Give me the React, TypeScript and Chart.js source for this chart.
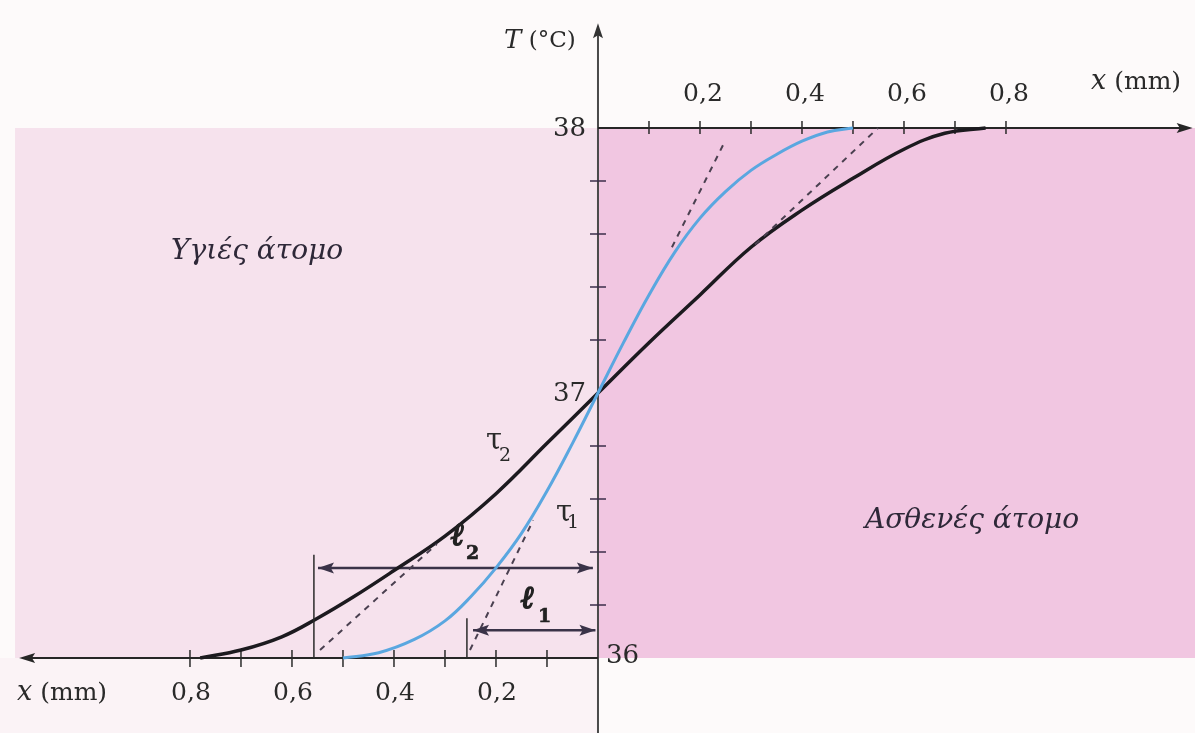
import React, { useEffect, useRef } from "react";
import { Chart, registerables } from "chart.js";
Chart.register(...registerables);

// scale ranges (mm, °C)
const X_MIN = -1.1725;
const X_MAX = 1.1706;
const T_MIN = 35.717;
const T_MAX = 38.483;

// curve τ2 (black)
const tau2X = [-0.78, -0.7, -0.62, -0.55, -0.48, -0.4, -0.3, -0.2, -0.1, 0, 0.1, 0.2, 0.3, 0.4, 0.5, 0.6, 0.68, 0.76];
const tau2T = [36.0, 36.03, 36.08, 36.15, 36.23, 36.33, 36.46, 36.62, 36.81, 37.0, 37.19, 37.37, 37.55, 37.69, 37.81, 37.92, 37.98, 38.0];

// curve τ1 (blue)
const tau1X = [-0.5, -0.43, -0.36, -0.3, -0.25, -0.2, -0.15, -0.1, -0.05, 0, 0.05, 0.1, 0.15, 0.2, 0.25, 0.3, 0.35, 0.4, 0.45, 0.5];
const tau1T = [36.0, 36.02, 36.07, 36.14, 36.23, 36.34, 36.47, 36.63, 36.81, 37.0, 37.19, 37.37, 37.53, 37.66, 37.76, 37.84, 37.9, 37.95, 37.985, 38.0];

// dashed tangents
const tan2LeftX = [-0.545, -0.316];
const tan2LeftT = [36.03, 36.43];
const tan2RightX = [0.308, 0.549];
const tan2RightT = [37.56, 38.0];
const tan1LeftX = [-0.251, -0.127];
const tan1LeftT = [36.03, 36.52];
const tan1RightX = [0.145, 0.249];
const tan1RightT = [37.55, 37.95];

// marker lines
const l2MarkX = [-0.557, -0.557];
const l2MarkT = [36.0, 36.39];
const l1MarkX = [-0.257, -0.257];
const l1MarkT = [36.0, 36.15];

// double arrows ℓ2, ℓ1
const l2ArrowX = [-0.549, -0.01];
const l2ArrowT = [36.34, 36.34];
const l1ArrowX = [-0.245, -0.005];
const l1ArrowT = [36.105, 36.105];

// ticks & labels
const topTickX = [0.1, 0.2, 0.3, 0.4, 0.5, 0.6, 0.7, 0.8];
const bottomTickX = [-0.1, -0.2, -0.3, -0.4, -0.5, -0.6, -0.7, -0.8];
const topTickLabelX = [0.2, 0.4, 0.6, 0.8];
const topTickLabels = ["0,2", "0,4", "0,6", "0,8"];
const bottomTickLabelX = [-0.8, -0.6, -0.4, -0.2];
const bottomTickLabels = ["0,8", "0,6", "0,4", "0,2"];
const tTickValues = [36.2, 36.4, 36.6, 36.8, 37.2, 37.4, 37.6, 37.8];
const tLabelValues = [38, 37, 36];
const tLabels = ["38", "37", "36"];

// axis extents
const AXIS_RIGHT_END = 1.166;
const AXIS_LEFT_END = -1.135;
const AXIS_TOP_END = 38.395;
const REGION_LEFT_START = -1.143;

const SERIF = '"DejaVu Serif", "Liberation Serif", serif';

const pts = (xs: number[], ys: number[]) => xs.map((x, i) => ({ x, y: ys[i] }));

function arrowHead(ctx: CanvasRenderingContext2D, tx: number, ty: number, dx: number, dy: number, len: number, half: number, color: string) {
  const nx = -dy, ny = dx;
  ctx.save();
  ctx.fillStyle = color;
  ctx.beginPath();
  ctx.moveTo(tx, ty);
  ctx.lineTo(tx - dx * len + nx * half, ty - dy * len + ny * half);
  ctx.lineTo(tx - dx * len * 0.8, ty - dy * len * 0.8);
  ctx.lineTo(tx - dx * len - nx * half, ty - dy * len - ny * half);
  ctx.closePath();
  ctx.fill();
  ctx.restore();
}

const figurePlugin = {
  id: "figure",
  beforeDatasetsDraw(chart: any) {
    const { ctx, scales } = chart;
    const X = (v: number) => scales.x.getPixelForValue(v);
    const Y = (v: number) => scales.y.getPixelForValue(v);
    ctx.save();
    ctx.fillStyle = "#fdfafa";
    ctx.fillRect(0, 0, chart.width, chart.height);
    ctx.fillStyle = "#fbf3f6";
    ctx.fillRect(0, Y(36), X(0), chart.height - Y(36));
    ctx.fillStyle = "#f6e2ed";
    ctx.fillRect(X(REGION_LEFT_START), Y(38), X(0) - X(REGION_LEFT_START), Y(36) - Y(38));
    ctx.fillStyle = "#f1c6e1";
    ctx.fillRect(X(0), Y(38), chart.width - X(0), Y(36) - Y(38));

    // vertical axis
    ctx.strokeStyle = "#4a4a4a";
    ctx.lineWidth = 2;
    ctx.beginPath();
    ctx.moveTo(X(0), chart.height);
    ctx.lineTo(X(0), Y(AXIS_TOP_END) + 10);
    ctx.stroke();
    arrowHead(ctx, X(0), Y(AXIS_TOP_END), 0, -1, 15, 5, "#333");

    // top horizontal axis (T = 38)
    ctx.strokeStyle = "#262626";
    ctx.lineWidth = 2;
    ctx.beginPath();
    ctx.moveTo(X(0), Y(38));
    ctx.lineTo(X(AXIS_RIGHT_END) - 10, Y(38));
    ctx.stroke();
    arrowHead(ctx, X(AXIS_RIGHT_END), Y(38), 1, 0, 16, 5, "#262626");

    // bottom horizontal axis (T = 36)
    ctx.beginPath();
    ctx.moveTo(X(0), Y(36));
    ctx.lineTo(X(AXIS_LEFT_END) + 10, Y(36));
    ctx.stroke();
    arrowHead(ctx, X(AXIS_LEFT_END), Y(36), -1, 0, 16, 5, "#262626");

    // ticks
    ctx.lineWidth = 1.5;
    ctx.strokeStyle = "#2a2a2a";
    topTickX.forEach((v) => {
      ctx.beginPath();
      ctx.moveTo(X(v), Y(38) - 7);
      ctx.lineTo(X(v), Y(38) + 6);
      ctx.stroke();
    });
    bottomTickX.forEach((v) => {
      ctx.beginPath();
      ctx.moveTo(X(v), Y(36) - 8);
      ctx.lineTo(X(v), Y(36) + 9);
      ctx.stroke();
    });
    ctx.strokeStyle = "#3a2c48";
    tTickValues.forEach((v) => {
      ctx.beginPath();
      ctx.moveTo(X(0) - 8, Y(v));
      ctx.lineTo(X(0) + 8, Y(v));
      ctx.stroke();
    });
    ctx.restore();
  },
  afterDatasetsDraw(chart: any) {
    const { ctx, scales } = chart;
    const X = (v: number) => scales.x.getPixelForValue(v);
    const Y = (v: number) => scales.y.getPixelForValue(v);
    ctx.save();
    const ac = "#3a3348";
    arrowHead(ctx, X(l2ArrowX[0]), Y(l2ArrowT[0]), -1, 0, 16, 5.5, ac);
    arrowHead(ctx, X(l2ArrowX[1]), Y(l2ArrowT[1]), 1, 0, 16, 5.5, ac);
    arrowHead(ctx, X(l1ArrowX[0]), Y(l1ArrowT[0]), -1, 0, 16, 5.5, ac);
    arrowHead(ctx, X(l1ArrowX[1]), Y(l1ArrowT[1]), 1, 0, 16, 5.5, ac);

    ctx.fillStyle = "#2a2a2a";
    ctx.textBaseline = "middle";
    // tick labels
    ctx.font = `25px ${SERIF}`;
    ctx.textAlign = "center";
    topTickLabelX.forEach((v, i) => ctx.fillText(topTickLabels[i], X(v) + 3, Y(38) - 33));
    bottomTickLabelX.forEach((v, i) => ctx.fillText(bottomTickLabels[i], X(v) + 1, Y(36) + 35));
    ctx.font = `26px ${SERIF}`;
    tLabelValues.forEach((v, i) => {
      if (v === 36) {
        ctx.textAlign = "left";
        ctx.fillText(tLabels[i], X(0) + 8, Y(v) - 2);
      } else {
        ctx.textAlign = "right";
        ctx.fillText(tLabels[i], X(0) - 12, Y(v) + 1);
      }
    });

    const drawMixed = (parts: [string, string][], x: number, y: number, stroke = 0) => {
      ctx.textAlign = "left";
      let cx = x;
      parts.forEach(([font, s]) => {
        ctx.font = font;
        ctx.fillText(s, cx, y);
        if (stroke > 0) {
          ctx.lineWidth = stroke;
          ctx.strokeStyle = ctx.fillStyle as string;
          ctx.strokeText(s, cx, y);
        }
        cx += ctx.measureText(s).width;
      });
    };
    drawMixed([[`italic 26px ${SERIF}`, "T"], [`23px ${SERIF}`, " (°C)"]], 504, 41);
    drawMixed([[`italic 27px ${SERIF}`, "x"], [`25px ${SERIF}`, " (mm)"]], 1091, 82);
    drawMixed([[`italic 27px ${SERIF}`, "x"], [`25px ${SERIF}`, " (mm)"]], 17, Y(36) + 35);

    // region labels
    ctx.fillStyle = "#2e2838";
    drawMixed([[`italic 28px ${SERIF}`, "Υγιές άτομο"]], 171, 252);
    drawMixed([[`italic 28px ${SERIF}`, "Ασθενές άτομο"]], 865, 521);

    // τ labels
    ctx.fillStyle = "#2a2a2a";
    drawMixed([[`29px ${SERIF}`, "τ"]], 486, 441);
    drawMixed([[`19px ${SERIF}`, "2"]], 499, 456);
    drawMixed([[`29px ${SERIF}`, "τ"]], 556, 513);
    drawMixed([[`19px ${SERIF}`, "1"]], 567, 523);

    // ℓ labels
    ctx.fillStyle = "#222";
    drawMixed([[`bold italic 31px ${SERIF}`, "ℓ"]], 451, 537, 1.6);
    drawMixed([[`bold 19px ${SERIF}`, "2"]], 466, 554, 0.6);
    drawMixed([[`bold italic 31px ${SERIF}`, "ℓ"]], 521, 600, 1.6);
    drawMixed([[`bold 19px ${SERIF}`, "1"]], 538, 617, 0.6);
    ctx.restore();
  },
};

export default function App() {
  const ref = useRef<HTMLCanvasElement>(null);
  useEffect(() => {
    document.body.style.margin = "0";
    const line = (data: any, color: string, width: number, extra: any = {}) => ({
      data,
      showLine: true,
      borderColor: color,
      borderWidth: width,
      pointRadius: 0,
      fill: false,
      ...extra,
    });
    const chart = new Chart(ref.current!, {
      type: "scatter",
      data: {
        datasets: [
          line(pts(l2MarkX, l2MarkT), "#2a2a2a", 1.5),
          line(pts(l1MarkX, l1MarkT), "#2a2a2a", 1.5),
          line(pts(tan2LeftX, tan2LeftT), "#4a4050", 2, { borderDash: [6, 6] }),
          line(pts(tan2RightX, tan2RightT), "#4a4050", 2, { borderDash: [6, 6] }),
          line(pts(tan1LeftX, tan1LeftT), "#4a4050", 2, { borderDash: [6, 6] }),
          line(pts(tan1RightX, tan1RightT), "#4a4050", 2, { borderDash: [6, 6] }),
          line(pts(tau1X, tau1T), "#5aa7e0", 3, { tension: 0.4 }),
          line(pts(tau2X, tau2T), "#1c1a1f", 3.5, { tension: 0.4 }),
          line(pts(l2ArrowX, l2ArrowT), "#3a3348", 2.5),
          line(pts(l1ArrowX, l1ArrowT), "#3a3348", 2.5),
        ],
      },
      options: {
        animation: false,
        responsive: false,
        devicePixelRatio: 1,
        layout: { padding: 0 },
        scales: {
          x: { type: "linear", min: X_MIN, max: X_MAX, display: false },
          y: { type: "linear", min: T_MIN, max: T_MAX, display: false },
        },
        plugins: { legend: { display: false }, tooltip: { enabled: false } },
      },
      plugins: [figurePlugin],
    });
    return () => chart.destroy();
  }, []);
  return <canvas ref={ref} width={1195} height={733} style={{ display: "block" }} />;
}
